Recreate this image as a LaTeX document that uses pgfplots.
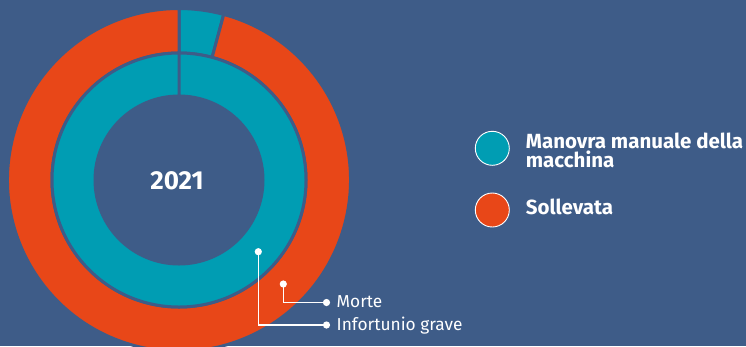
\documentclass[border=0pt]{standalone}
\usepackage{pgfplots}
\pgfplotsset{compat=1.18}
\usepackage{pgfplotstable}
\usepackage{fontspec}
\setmainfont{Fira Sans}
\definecolor{bg}{HTML}{3E5C88}
\definecolor{tealc}{HTML}{009DB3}
\definecolor{orangec}{HTML}{E84718}

% ring data (percent): outer ring = Morte, inner ring = Infortunio grave
\pgfplotstableread{
label     morte infortunio
Manovra   4.2   100
Sollevata 95.8  0
}\data

\newcommand{\slice}[5]{% rin rout a1 a2 color
  \fill[#5, draw=bg, line width=3pt] ([shift={(#3:#2)}]C) arc[start angle=#3, end angle=#4, radius=#2]
    -- ([shift={(#4:#1)}]C) arc[start angle=#4, end angle=#3, radius=#1] -- cycle;}

\begin{document}
\begin{tikzpicture}
\pgfplotstablegetelem{0}{morte}\of\data
\pgfmathsetmacro\oA{90-3.6*\pgfplotsretval}
\pgfplotstablegetelem{1}{morte}\of\data
\pgfmathsetmacro\oB{\oA-3.6*\pgfplotsretval}
\pgfplotstablegetelem{0}{infortunio}\of\data
\pgfmathsetmacro\iA{90-3.6*\pgfplotsretval}
\useasboundingbox (0,0) rectangle (746pt,346pt);
\clip (0,0) rectangle (746pt,346pt);
\begin{axis}[
  at={(0,0)}, anchor=south west,
  width=746pt, height=346pt, scale only axis,
  xmin=0, xmax=746, ymin=0, ymax=346, y dir=reverse,
  hide axis, clip=false,
]
\fill[bg] (axis cs:0,0) rectangle (axis cs:746,346);
\coordinate (C) at (axis cs:179,180);
% outer ring (Morte)
\slice{127pt}{171.5pt}{90}{\oA}{tealc}
\slice{127pt}{171.5pt}{\oA}{\oB}{orangec}
% inner ring (Infortunio grave)
\slice{84pt}{127pt}{90}{\iA}{tealc}

\node[font=\bfseries\fontsize{26}{26}\selectfont, text=white, inner sep=0pt] at (axis cs:177,180.5) {2021};

% pointers
\draw[white, line width=1.6pt] (axis cs:258.3,251.7) -- (axis cs:258.3,325) -- (axis cs:326.5,325);
\draw[white, line width=1.6pt] (axis cs:283.3,284) -- (axis cs:283.3,302.5) -- (axis cs:326.5,302.5);
\fill[white] (axis cs:258.3,251.7) circle[radius=3.6pt];
\fill[white] (axis cs:326.5,325) circle[radius=3.6pt];
\fill[white] (axis cs:283.3,284) circle[radius=3.6pt];
\fill[white] (axis cs:326.5,302.5) circle[radius=3.6pt];
\node[anchor=base west, inner sep=0pt, text=white, font=\fontsize{17.3}{17.3}\selectfont] at (axis cs:336.5,307.3) {Morte};
\node[anchor=base west, inner sep=0pt, text=white, font=\fontsize{17.3}{17.3}\selectfont] at (axis cs:336.5,330) {Infortunio grave};

% legend
\fill[tealc, draw=white, line width=0.9pt] (axis cs:492.3,148.3) circle[radius=17pt];
\fill[orangec, draw=white, line width=0.9pt] (axis cs:492.3,210) circle[radius=17pt];
\node[anchor=base west, inner sep=0pt, text=white, align=left, font=\bfseries\fontsize{20.5}{18.2}\selectfont] at (axis cs:525.7,167) {Manovra manuale della\\macchina};
\node[anchor=base west, inner sep=0pt, text=white, font=\bfseries\fontsize{20.5}{20.5}\selectfont] at (axis cs:525.7,214) {Sollevata};
\end{axis}
\end{tikzpicture}
\end{document}
